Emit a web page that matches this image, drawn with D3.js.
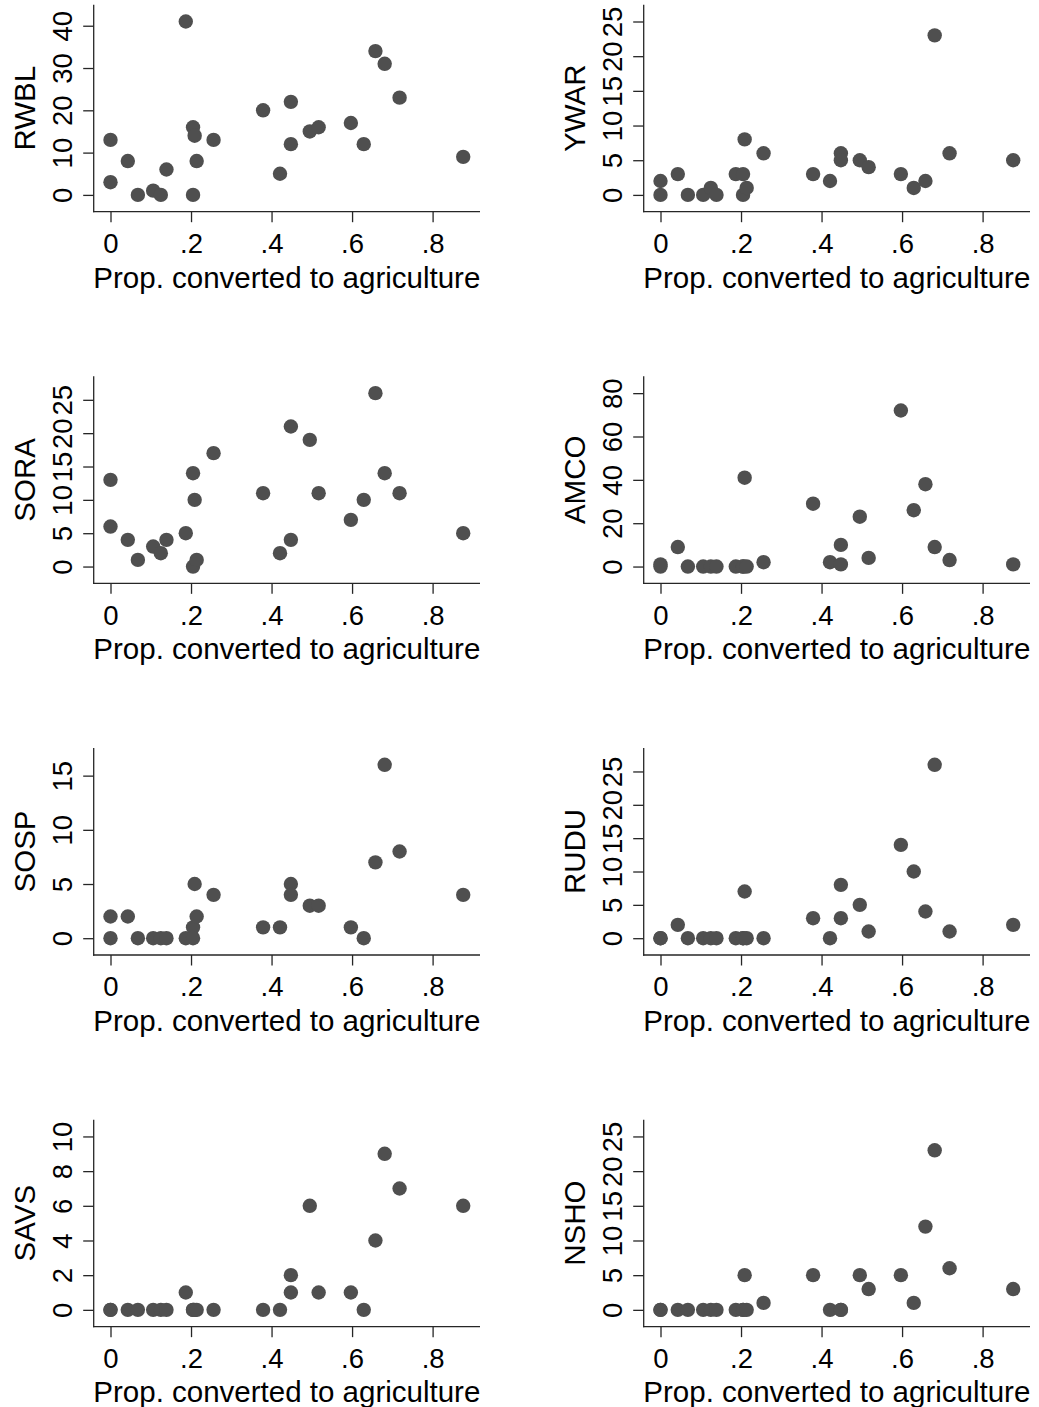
<!DOCTYPE html>
<html>
<head>
<meta charset="utf-8">
<script src="https://cdn.jsdelivr.net/npm/d3@7"></script>
<style>
  html, body { margin: 0; padding: 0; background: #fff; }
  svg { display: block; }
  text { font-family: "Liberation Sans", Arial, Helvetica, sans-serif; fill: #000; }
</style>
</head>
<body>
<script>
// ---- data ----
const prop = [0, 0, 0.043, 0.068, 0.106, 0.125, 0.139, 0.187, 0.205, 0.205, 0.209, 0.214, 0.256,
              0.379, 0.421, 0.448, 0.448, 0.495, 0.517, 0.597, 0.629, 0.658, 0.681, 0.718, 0.876];

const RWBL = [13, 3, 8, 0, 1, 0, 6, 41, 16, 0, 14, 8, 13, 20, 5, 22, 12, 15, 16, 17, 12, 34, 31, 23, 9];
const YWAR = [2, 0, 3, 0, 0, 1, 0, 3, 3, 0, 8, 1, 6, 3, 2, 6, 5, 5, 4, 3, 1, 2, 23, 6, 5];
const SORA = [13, 6, 4, 1, 3, 2, 4, 5, 14, 0, 10, 1, 17, 11, 2, 21, 4, 19, 11, 7, 10, 26, 14, 11, 5];
const AMCO = [1, 0, 9, 0, 0, 0, 0, 0, 0, 0, 41, 0, 2, 29, 2, 10, 1, 23, 4, 72, 26, 38, 9, 3, 1];
const SOSP = [2, 0, 2, 0, 0, 0, 0, 0, 1, 0, 5, 2, 4, 1, 1, 5, 4, 3, 3, 1, 0, 7, 16, 8, 4];
const RUDU = [0, 0, 2, 0, 0, 0, 0, 0, 0, 0, 7, 0, 0, 3, 0, 8, 3, 5, 1, 14, 10, 4, 26, 1, 2];
const SAVS = [0, 0, 0, 0, 0, 0, 0, 1, 0, 0, 0, 0, 0, 0, 0, 2, 1, 6, 1, 1, 0, 4, 9, 7, 6];
const NSHO = [0, 0, 0, 0, 0, 0, 0, 0, 0, 0, 5, 0, 1, 5, 0, 0, 0, 5, 3, 5, 1, 12, 23, 6, 3];

const species = ["RWBL", "YWAR", "SORA", "AMCO", "SOSP", "RUDU", "SAVS", "NSHO"];
const counts = [RWBL, YWAR, SORA, AMCO, SOSP, RUDU, SAVS, NSHO];

const yTicksRWBL = [0, 10, 20, 30, 40];
const yTicksYWAR = [0, 5, 10, 15, 20, 25];
const yTicksSORA = [0, 5, 10, 15, 20, 25];
const yTicksAMCO = [0, 20, 40, 60, 80];
const yTicksSOSP = [0, 5, 10, 15];
const yTicksRUDU = [0, 5, 10, 15, 20, 25];
const yTicksSAVS = [0, 2, 4, 6, 8, 10];
const yTicksNSHO = [0, 5, 10, 15, 20, 25];
const yTicks = [yTicksRWBL, yTicksYWAR, yTicksSORA, yTicksAMCO, yTicksSOSP, yTicksRUDU, yTicksSAVS, yTicksNSHO];

const xTicks = [0, 0.2, 0.4, 0.6, 0.8];
const xTickLabels = ["0", ".2", ".4", ".6", ".8"];
const xTitle = "Prop. converted to agriculture";

// ---- layout ----
const W = 1039, H = 1407;
const colLeft = [93.7, 643.7];
const plotW = 386.3;
const rowBottom0 = 211.7, rowStep = 371.65, plotH = 207;
const pad = 16.8;
const tickLen = 10.5;
const titleSize = 29.5;
const tickSize = 27.5;
const axisColor = "#262626";
const markerColor = "#4f4f4f";
const markerR = 7.2;

const svg = d3.select("body").append("svg")
  .attr("width", W).attr("height", H)
  .attr("viewBox", `0 0 ${W} ${H}`);
svg.append("rect").attr("width", W).attr("height", H).attr("fill", "#fff");

species.forEach((name, i) => {
  const col = i % 2, row = Math.floor(i / 2);
  const L = colLeft[col], R = L + plotW;
  const B = rowBottom0 + row * rowStep, T = B - plotH;
  const vals = counts[i];
  const ticks = yTicks[i];

  const x = d3.scaleLinear()
    .domain([Math.min(0, d3.min(prop)), d3.max(prop)])
    .range([L + pad, R - pad]);
  const y = d3.scaleLinear()
    .domain([Math.min(0, d3.min(vals)), Math.max(d3.max(vals), d3.max(ticks))])
    .range([B - pad, T + pad]);

  const g = svg.append("g");

  // markers
  g.append("g").selectAll("circle")
    .data(prop.map((p, k) => [p, vals[k]]))
    .join("circle")
    .attr("cx", d => x(d[0]))
    .attr("cy", d => y(d[1]))
    .attr("r", markerR)
    .attr("fill", markerColor);

  // y axis
  const ya = g.append("g").attr("transform", `translate(${L},0)`)
    .call(d3.axisLeft(y).tickValues(ticks).tickSize(tickLen).tickSizeOuter(0).tickFormat(d3.format("d")));
  ya.select(".domain").remove();
  ya.selectAll(".tick line").attr("stroke", axisColor).attr("stroke-width", 1.3);
  ya.selectAll(".tick text")
    .attr("x", 0).attr("y", 0).attr("dy", null).attr("dx", null)
    .attr("text-anchor", "middle")
    .attr("transform", `translate(-21.7,0) rotate(-90)`)
    .style("font-size", tickSize + "px")
    .style("font-family", "'Liberation Sans', Arial, sans-serif")
    .attr("fill", "#000");

  // x axis
  const xa = g.append("g").attr("transform", `translate(0,${B})`)
    .call(d3.axisBottom(x).tickValues(xTicks).tickSize(tickLen).tickSizeOuter(0)
      .tickFormat((d, k) => xTickLabels[k]));
  xa.select(".domain").remove();
  xa.selectAll(".tick line").attr("stroke", axisColor).attr("stroke-width", 1.3);
  xa.selectAll(".tick text")
    .attr("y", 41.3).attr("dy", null)
    .attr("text-anchor", "middle")
    .style("font-size", tickSize + "px")
    .style("font-family", "'Liberation Sans', Arial, sans-serif")
    .attr("fill", "#000");

  // axis lines spanning the whole plot region
  g.append("line").attr("x1", L).attr("x2", L).attr("y1", T).attr("y2", B + 0.65)
    .attr("stroke", axisColor).attr("stroke-width", 1.3);
  g.append("line").attr("x1", L - 0.65).attr("x2", R).attr("y1", B).attr("y2", B)
    .attr("stroke", axisColor).attr("stroke-width", 1.3);

  // titles
  g.append("text")
    .attr("x", (L + R) / 2).attr("y", B + 75.8)
    .attr("text-anchor", "middle")
    .style("font-size", titleSize + "px")
    .text(xTitle);
  g.append("text")
    .attr("transform", `translate(${L - 58.7},${(T + B) / 2}) rotate(-90)`)
    .attr("text-anchor", "middle")
    .style("font-size", titleSize + "px")
    .text(name);
});
</script>
</body>
</html>
